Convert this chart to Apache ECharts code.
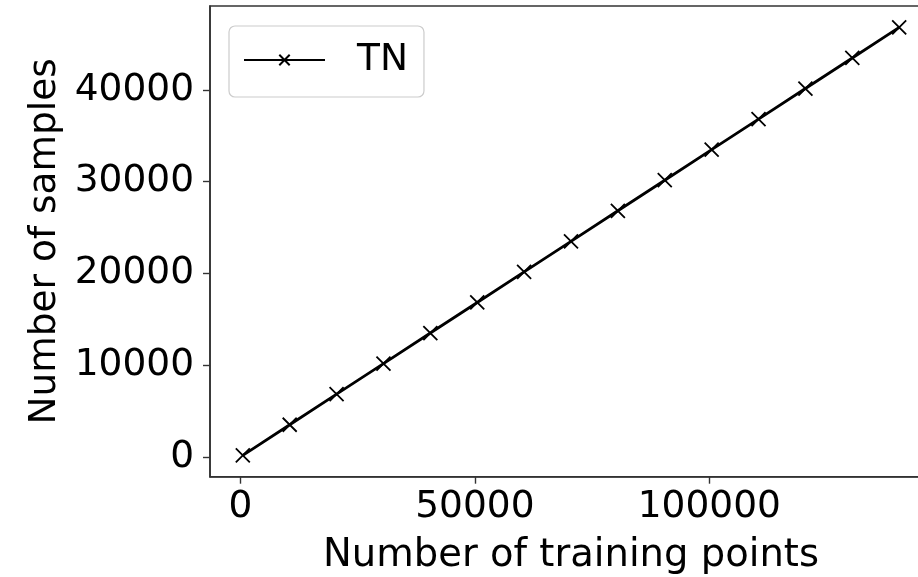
<!DOCTYPE html>
<html>
<head>
<meta charset="utf-8">
<script src="https://cdn.jsdelivr.net/npm/echarts@6/dist/echarts.min.js"></script>
<style>
  html, body { margin: 0; padding: 0; background: #fff; }
  #chart { width: 918px; height: 577px; }
</style>
</head>
<body>
<div id="chart"></div>
<script>
// Training set size vs. number of drawn samples
const trainingPoints = [500, 10500, 20500, 30500, 40500, 50500, 60500, 70500,
                        80500, 90500, 100500, 110500, 120500, 130500, 140500];
const samplesTN = [167, 3500, 6833, 10167, 13500, 16833, 20167, 23500,
                   26833, 30167, 33500, 36833, 40167, 43500, 46833];
const xTicks = [0, 50000, 100000];
const yTicks = [0, 10000, 20000, 30000, 40000];

const FONT = 'DejaVu Sans';
const FS = 37.5;
const crossMarker = 'path://M0,0L10,10M10,0L0,10';
const plain = v => String(v);

const chart = echarts.init(document.getElementById('chart'), null, { renderer: 'canvas' });

chart.setOption({
  backgroundColor: '#fff',
  animation: false,
  grid: {
    left: 210, top: 6, width: 722, height: 470.7,
    outerBoundsMode: 'none',
    show: true, borderColor: '#333', borderWidth: 1.6, backgroundColor: 'transparent'
  },
  legend: {
    left: 229, top: 26,
    padding: [15, 16, 18, 14],
    borderColor: '#cccccc', borderWidth: 1.2, borderRadius: 6,
    backgroundColor: '#fff',
    itemWidth: 81, itemHeight: 13,
    textStyle: { fontFamily: FONT, fontSize: FS, color: '#000', padding: [0, 0, 0, 27] },
    data: [{ name: 'TN' }]
  },
  xAxis: {
    type: 'value',
    min: -6500, max: 147500,
    name: 'Number of training points',
    nameLocation: 'middle',
    nameGap: 60,
    nameTextStyle: { fontFamily: FONT, fontSize: 38.5, color: '#000' },
    axisLine: { show: true, onZero: false, lineStyle: { color: '#333', width: 1.6 } },
    axisTick: { show: true, length: 7, lineStyle: { color: '#333', width: 1.4 }, customValues: xTicks },
    axisLabel: { fontFamily: FONT, fontSize: FS, color: '#000', margin: 12, customValues: xTicks, formatter: plain },
    splitLine: { show: false }
  },
  yAxis: {
    type: 'value',
    min: -2166, max: 49166,
    name: 'Number of samples',
    nameLocation: 'middle',
    nameGap: 138,
    nameTextStyle: { fontFamily: FONT, fontSize: FS, color: '#000' },
    axisLine: { show: true, onZero: false, lineStyle: { color: '#333', width: 1.6 } },
    axisTick: { show: true, length: 7, lineStyle: { color: '#333', width: 1.4 }, customValues: yTicks },
    axisLabel: { fontFamily: FONT, fontSize: FS, color: '#000', margin: 16, customValues: yTicks, formatter: plain },
    splitLine: { show: false }
  },
  series: [{
    name: 'TN',
    type: 'line',
    data: trainingPoints.map((x, i) => [x, samplesTN[i]]),
    symbol: crossMarker,
    symbolSize: 14,
    showAllSymbol: true,
    lineStyle: { color: '#000', width: 2.8 },
    itemStyle: { color: 'transparent', borderColor: '#000', borderWidth: 1.8 },
    emphasis: { disabled: true }
  }]
});
</script>
</body>
</html>
